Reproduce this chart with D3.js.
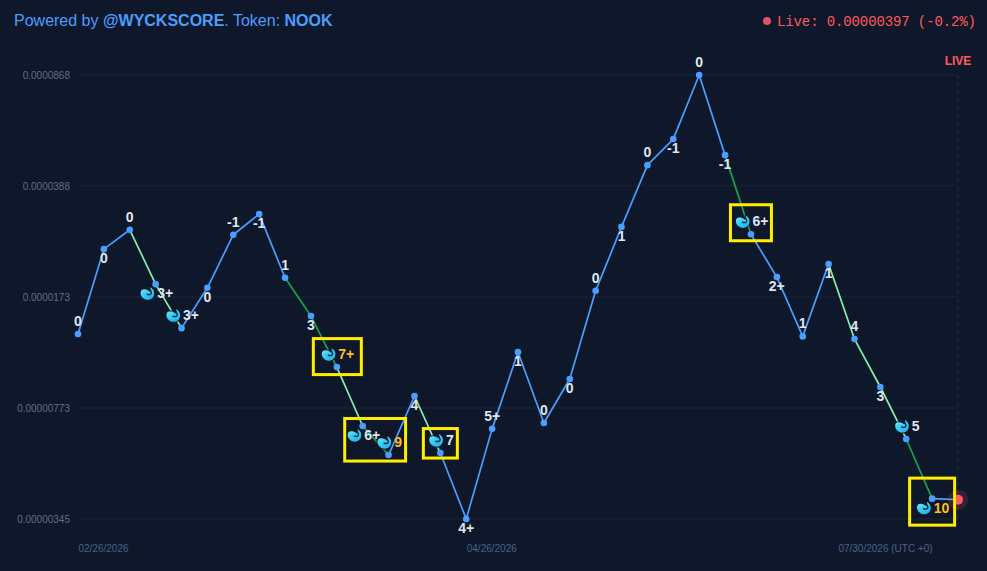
<!DOCTYPE html>
<html><head><meta charset="utf-8">
<script src="https://cdn.jsdelivr.net/npm/d3@7"></script>
<style>
html,body{margin:0;padding:0;background:#0f172a;overflow:hidden}
svg{display:block}
text{font-family:"Liberation Sans",Arial,sans-serif}
</style></head><body>
<svg id="c" width="987" height="571"></svg>
<script>
const prices=[0.00001323,0.0000245,0.0000282,0.000019,0.0000138,0.0000185,0.0000272,0.0000316,0.0000199,0.00001507,0.0000104,0.00000678,0.00000549,0.00000843,0.00000557,0.00000345,0.00000664,0.0000116,0.00000693,0.00000954,0.0000181,0.0000288,0.0000451,0.0000545,0.0000868,0.0000485,0.0000273,0.00002,0.000013,0.000022,0.00001275,0.000009,0.00000617,0.000004];
const livePrice=0.00000397;
const scores=["0","0","0","3+","3+","0","-1","-1","1","3","7+","6+","9","4","7","4+","5+","1","0","0","0","1","0","-1","0","-1","6+","2+","1","1","4","3","5","10"];
const labelSide=["a","b","a","b","a","b","a","b","a","b","a","b","a","b","a","b","a","b","a","b","a","b","a","b","a","b","a","b","a","b","a","b","a","b"];
const iconIdx=[3,4,10,11,12,14,26,32,33];
const hotIdx=[10,12,33];
const segKinds=["b","b","l","l","b","b","b","b","d","d","l","d","b","l","b","b","b","b","b","b","b","b","b","b","b","d","b","b","b","l","l","l","d","b"];
const yTickValues=[0.0000868,0.0000388,0.0000173,0.00000773,0.00000345];
const yTickLabels=["0.0000868","0.0000388","0.0000173","0.00000773","0.00000345"];
const xTickIdx=[0,15,33];
const xTickLabels=["02/26/2026","04/26/2026","07/30/2026 (UTC +0)"];
const boxGroups=[[10,10],[11,12],[14,14],[26,26],[33,33]];

const svg=d3.select("#c");
const BG="#0f172a",BLUE="#4a9eff",LIGHT="#86efac",DARK="#16a34a",RED="#ff5a5f",HOT="#fbbf24",TXT="#dfe6ef";
svg.append("rect").attr("width",987).attr("height",571).attr("fill",BG);

const all=prices.concat([livePrice]);
const x=d3.scalePoint().domain(d3.range(all.length)).range([78,958]);
const y=d3.scaleLog().domain([0.00000345,0.0000868]).range([519,75]);

// grid + axes
const yAxis=svg.append("g").attr("transform","translate(78,0)")
  .call(d3.axisLeft(y).tickValues(yTickValues).tickSize(0).tickPadding(8)
    .tickFormat((d,i)=>yTickLabels[i]));
yAxis.select(".domain").remove();
yAxis.selectAll("text").attr("fill","#5f6f88").style("font-size","10px").style("font-family",'"Liberation Sans",Arial,sans-serif');
svg.append("g").selectAll("line").data(yTickValues).join("line")
  .attr("x1",x(0)).attr("x2",x(all.length-1)).attr("y1",d=>y(d)).attr("y2",d=>y(d))
  .attr("stroke","#1e293b").attr("stroke-width",2).attr("stroke-opacity",.4);
svg.append("line").attr("x1",x(all.length-1)).attr("x2",x(all.length-1))
  .attr("y1",y(yTickValues[0])).attr("y2",y(yTickValues[4]))
  .attr("stroke","#1e293b").attr("stroke-width",1.5).attr("stroke-dasharray","4 4");

const xAxis=svg.append("g").attr("transform","translate(0,549)")
  .call(d3.axisBottom(x).tickValues(xTickIdx).tickSize(0).tickPadding(0)
    .tickFormat((d,i)=>xTickLabels[i]));
xAxis.select(".domain").remove();
xAxis.selectAll("text").attr("fill","#4b6288").attr("dy","0.3em").attr("text-anchor",(d,i)=>i==2?"end":"start")
  .style("font-size","10px").style("font-family",'"Liberation Sans",Arial,sans-serif');

// line segments
const segColor={b:BLUE,l:LIGHT,d:DARK};
svg.append("g").selectAll("line").data(segKinds).join("line")
  .attr("x1",(d,i)=>x(i)).attr("y1",(d,i)=>y(all[i]))
  .attr("x2",(d,i)=>x(i+1)).attr("y2",(d,i)=>y(all[i+1]))
  .attr("stroke",d=>segColor[d]).attr("stroke-width",1.7).attr("stroke-linecap","round");

// points
svg.append("g").selectAll("circle").data(prices).join("circle")
  .attr("cx",(d,i)=>x(i)).attr("cy",d=>y(d)).attr("r",3.3).attr("fill",BLUE);

// live marker
const lx=x(all.length-1),ly=y(livePrice);
svg.append("circle").attr("cx",lx).attr("cy",ly).attr("r",10).attr("fill",RED).attr("opacity",.16);
svg.append("circle").attr("cx",lx).attr("cy",ly).attr("r",5).attr("fill",RED);
svg.append("text").attr("x",lx).attr("y",65).attr("text-anchor","middle").attr("fill",RED)
  .attr("font-size",12).attr("font-weight",700).text("LIVE");

// score labels
const labY=i=>y(prices[i])+(labelSide[i]=="a"?-13:9);
const isIcon=i=>iconIdx.includes(i);
svg.append("g").selectAll("text").data(scores).join("text")
  .attr("x",(d,i)=>x(i)+(isIcon(i)?9.5:0)).attr("y",(d,i)=>labY(i)).attr("dy","0.35em")
  .attr("text-anchor","middle").attr("font-size",14).attr("font-weight",700)
  .attr("fill",(d,i)=>hotIdx.includes(i)?HOT:TXT).text(d=>d);

// whale icons
const grad=svg.append("defs").append("linearGradient").attr("id","wg").attr("x1",0).attr("y1",0).attr("x2",.6).attr("y2",1);
grad.append("stop").attr("offset",0).attr("stop-color","#a5f0fd");
grad.append("stop").attr("offset",.5).attr("stop-color","#3dd0f8");
grad.append("stop").attr("offset",1).attr("stop-color","#22b4ea");
const icons=svg.append("g").selectAll("g").data(iconIdx).join("g")
  .attr("transform",i=>`translate(${x(i)+(scores[i].length>1?-8:-4)},${labY(i)})`);
icons.append("path")
  .attr("d","M-7.5,-1 C-7,-4.5 -3,-5 0,-3.5 C1,-3 1.5,-2.5 2,-2 L2.5,-7 L6,-3.5 C7.5,-1.5 7.5,1.5 6,4 C4,7 0,8 -3,6.5 C-6,5 -8,2 -7.5,-1 Z")
  .attr("fill","url(#wg)").attr("stroke","#02070c").attr("stroke-width",.9);
icons.append("path")
  .attr("d","M2.5,-4.5 C2.5,-2 4.5,-1.5 3.5,0.5 C2.5,2 0.5,1.5 -1,1")
  .attr("fill","none").attr("stroke","#04222f").attr("stroke-width",1.3);

// highlight boxes: padding [left,right,top,bottom] around each boxed group
const pads=[[23.5,24.5,15.5,7.5],[18,17,7.5,6],[17,17,11.5,5],[20.5,20.5,16.5,6.5],[22.5,22.5,20.5,17.5]];
svg.append("g").selectAll("rect").data(boxGroups).join("rect")
  .each(function(g,k){
    const idx=d3.range(g[0],g[1]+1);
    const ys=idx.flatMap(i=>[y(prices[i]),labY(i)]);
    const p=pads[k];
    const xl=x(g[0])-p[0],xr=x(g[1])+p[1];
    const yt=k==1?d3.min(idx,i=>y(prices[i]))-p[2]:d3.min(ys)-p[2];
    const yb=k==1?d3.max(idx,i=>y(prices[i]))+p[3]:d3.max(ys)+p[3];
    d3.select(this).attr("x",xl).attr("y",yt).attr("width",xr-xl).attr("height",yb-yt);
  })
  .attr("fill","none").attr("stroke","#ffee00").attr("stroke-width",3);

// header
const t=svg.append("text").attr("x",14).attr("y",26).attr("font-size",16).attr("fill",BLUE);
t.append("tspan").text("Powered by ");
t.append("tspan").attr("font-weight",700).text("@WYCKSCORE");
t.append("tspan").text(". Token: ");
t.append("tspan").attr("font-weight",700).text("NOOK");
svg.append("circle").attr("cx",767).attr("cy",21).attr("r",4).attr("fill","#e0565f");
svg.append("text").attr("x",777).attr("y",26).attr("font-size",14).attr("fill",RED)
  .attr("textLength",199).attr("lengthAdjust","spacing")
  .style("font-family",'"Liberation Mono",monospace').text("Live: 0.00000397 (-0.2%)");
</script>
</body></html>
